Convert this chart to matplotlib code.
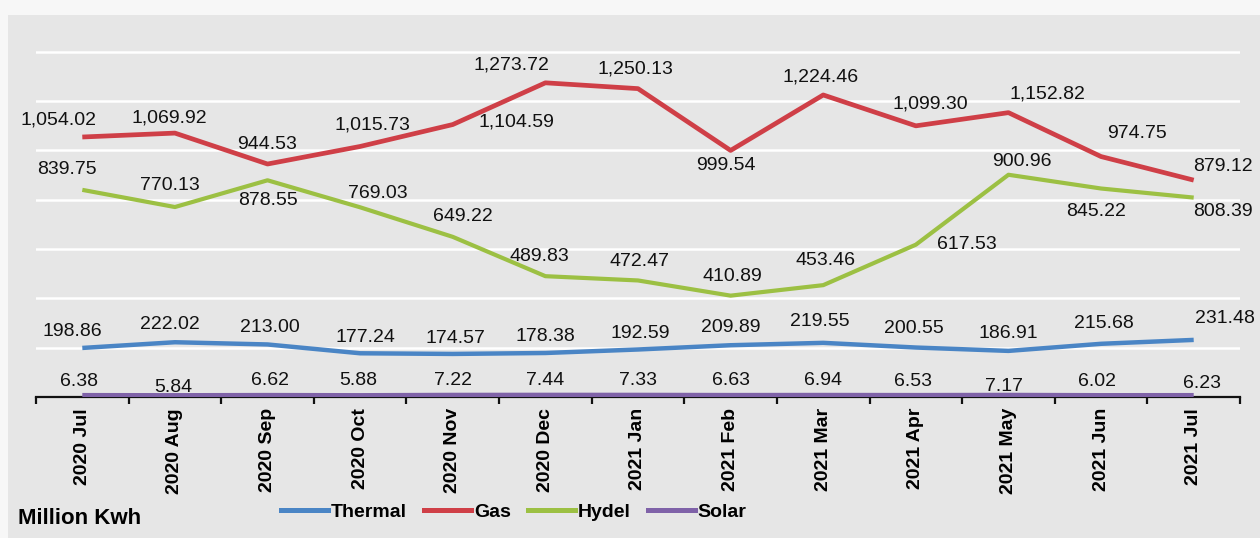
import numpy as np
import matplotlib.pyplot as plt
from matplotlib.patches import Rectangle
from matplotlib.lines import Line2D

plt.rcParams['font.family'] = ['Liberation Sans', 'DejaVu Sans']

# Datos
meses = ['2020 Jul', '2020 Aug', '2020 Sep', '2020 Oct', '2020 Nov', '2020 Dec',
         '2021 Jan', '2021 Feb', '2021 Mar', '2021 Apr', '2021 May', '2021 Jun', '2021 Jul']
thermal = [198.86, 222.02, 213.00, 177.24, 174.57, 178.38, 192.59, 209.89, 219.55,
           200.55, 186.91, 215.68, 231.48]
gas = [1054.02, 1069.92, 944.53, 1015.73, 1104.59, 1273.72, 1250.13, 999.54, 1224.46,
       1099.30, 1152.82, 974.75, 879.12]
hydel = [839.75, 770.13, 878.55, 769.03, 649.22, 489.83, 472.47, 410.89, 453.46,
         617.53, 900.96, 845.22, 808.39]
solar = [6.38, 5.84, 6.62, 5.88, 7.22, 7.44, 7.33, 6.63, 6.94, 6.53, 7.17, 6.02, 6.23]

# Desplazamiento de etiquetas en pixeles (dx, dy hacia arriba)
off_gas = [(-24, 17), (-6, 15), (0, 20), (12, 21), (64, 3), (-34, 18), (-3, 20),
           (-5, -15), (-3, 18), (14, 22), (39, 19), (36, 23), (29, 14)]
off_hydel = [(-15, 20), (-5, 22), (0, -20), (18, 14), (10, 20), (-6, 20), (1, 19),
             (2, 19), (2, 25), (51, 0), (13, 13), (-5, -23), (29, -14)]
off_thermal = [(-10, 16), (-5, 18), (2, 17), (5, 16), (3, 15), (0, 16), (2, 16),
               (0, 18), (-3, 21), (-2, 19), (0, 17), (3, 20), (31, 21)]
off_solar = [(-3, 14), (-2, 8), (2, 15), (-2, 15), (0, 15), (0, 15), (0, 15),
             (0, 15), (0, 15), (-3, 14), (-4, 9), (-4, 14), (8, 12)]

series = [
    ('Thermal', thermal, '#4a85c5', 3.2, off_thermal),
    ('Gas', gas, '#cf3f47', 3.4, off_gas),
    ('Hydel', hydel, '#9cc043', 3.0, off_hydel),
    ('Solar', solar, '#7f62a8', 3.6, off_solar),
]

fig = plt.figure(figsize=(12.6, 5.38), dpi=100)
fig.patch.set_facecolor('#f7f7f7')
fig.patches.append(Rectangle((8 / 1260, 0), 1 - 8 / 1260, 1 - 15 / 538,
                             transform=fig.transFigure, facecolor='#e6e6e6',
                             edgecolor='none', zorder=-5))

ax = fig.add_axes([36 / 1260, 141 / 538, 1204 / 1260, 370 / 538])
ax.patch.set_alpha(0)

x = np.arange(len(meses))

for nombre, valores, color, lw, offs in series:
    ax.plot(x, valores, color=color, lw=lw, solid_capstyle='butt', label=nombre, zorder=3)
    for xi, v, (dx, dy) in zip(x, valores, offs):
        ax.annotate(f'{v:,.2f}', (xi, v), xytext=(dx, dy), textcoords='offset pixels',
                    ha='center', va='center', fontsize=14, color='#111111', zorder=4)

ax.set_xlim(-0.5, len(meses) - 0.5)
ax.set_ylim(0, 1500)

# Lineas de la grilla blancas
for yv in range(200, 1500, 200):
    ax.axhline(yv, color='white', lw=1.8, zorder=1)

for s in ['top', 'right', 'left']:
    ax.spines[s].set_visible(False)
ax.spines['bottom'].set_color('#111111')
ax.spines['bottom'].set_linewidth(1.6)

ax.set_yticks([])
ax.set_xticks(x)
ax.set_xticklabels(meses, rotation=90, fontsize=14, fontweight='bold', va='top')
ax.tick_params(axis='x', which='major', length=0, pad=8)
ax.set_xticks(np.arange(-0.5, len(meses), 1), minor=True)
ax.tick_params(axis='x', which='minor', length=5, width=1.6, direction='out', color='#111111')

handles = [Line2D([0], [0], color=c, lw=3.6) for _, _, c, lw, _ in series]
fig.legend(handles, [s[0] for s in series], loc='center', ncol=4,
           bbox_to_anchor=(514 / 1260, 1 - 512 / 538), frameon=False,
           prop={'size': 14, 'weight': 'bold'}, handlelength=2.4,
           handletextpad=0.15, columnspacing=0.9)

fig.text(18 / 1260, 1 - 518 / 538, 'Million Kwh', fontsize=16, fontweight='bold',
         ha='left', va='center')

fig.savefig('out.png', dpi=100, facecolor=fig.get_facecolor())
